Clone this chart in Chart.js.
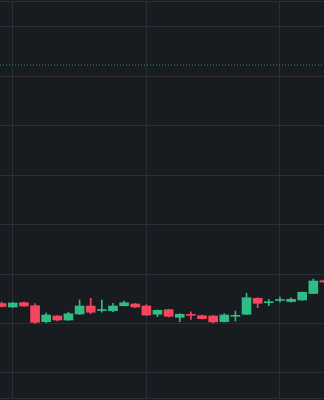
<!DOCTYPE html>
<html>
<head>
<meta charset="utf-8">
<script src="https://cdn.jsdelivr.net/npm/chart.js@4.4.0/dist/chart.umd.min.js"></script>
<style>
  html, body { margin: 0; padding: 0; background: #181b20; }
  #wrap { width: 324px; height: 400px; }
</style>
</head>
<body>
<div id="wrap"><canvas id="candles"></canvas></div>
<script>
// OHLC, one entry per candle
var opens  = [114.06, 113.35, 114.22, 113.61, 110.38, 111.53, 110.72, 111.94, 113.55, 112.64,
              112.60, 113.61, 113.96, 113.55, 111.88, 112.81, 111.27, 111.79, 111.59, 111.53,
              110.38, 111.47, 111.88, 115.11, 114.22, 114.67, 114.46, 114.77, 116.08, 118.67];
var highs  = [114.36, 114.26, 114.36, 114.02, 112.14, 111.63, 112.28, 114.77, 115.11, 114.77,
              114.10, 114.57, 114.06, 113.82, 112.74, 112.89, 112.00, 112.38, 111.73, 111.63,
              112.00, 112.54, 116.12, 115.23, 114.87, 115.37, 115.23, 116.39, 119.02, 118.87];
var lows   = [113.35, 113.25, 113.45, 110.05, 110.18, 110.52, 110.62, 111.83, 112.00, 112.28,
              112.40, 113.55, 113.25, 111.63, 111.39, 111.33, 110.38, 110.86, 110.92, 110.12,
              110.32, 110.52, 111.79, 113.21, 113.61, 114.36, 114.32, 114.71, 116.04, 118.21];
var closes = [113.45, 114.16, 113.55, 110.26, 111.73, 110.72, 112.00, 113.55, 112.28, 112.74,
              113.55, 114.22, 113.35, 111.73, 112.68, 111.47, 111.88, 111.67, 110.98, 110.32,
              111.73, 111.59, 115.23, 114.10, 114.42, 114.77, 114.91, 116.33, 118.61, 118.41];

var priceLine = 162.3;      // dotted level near the top
var xGridAt = [1, 13, 25];  // vertical grid lines sit on these candles

var upColor = "#2ebd85";
var downColor = "#f6465d";

var xMin = -0.15, xMax = 28.96;
var yMin = 94.94, yMax = 175.26;

var candleColors = [];
var bodies = [];
var wicks = [];
for (var i = 0; i < opens.length; i++) {
  candleColors.push(closes[i] >= opens[i] ? upColor : downColor);
  bodies.push({ x: i, y: [opens[i], closes[i]] });
  wicks.push({ x: i, y: [lows[i], highs[i]] });
}

var gridColor = "#2a2e35";

new Chart(document.getElementById("candles"), {
  type: "bar",
  data: {
    datasets: [
      {
        type: "line",
        data: [{ x: xMin, y: priceLine }, { x: xMax, y: priceLine }],
        borderColor: "rgba(46,189,133,0.75)",
        borderWidth: 1,
        borderDash: [1, 2],
        pointRadius: 0,
        order: 0
      },
      {
        data: bodies,
        backgroundColor: candleColors,
        barThickness: 9,
        minBarLength: 1,
        grouped: false,
        order: 1
      },
      {
        data: wicks,
        backgroundColor: candleColors,
        barThickness: 1,
        grouped: false,
        order: 2
      }
    ]
  },
  options: {
    responsive: true,
    maintainAspectRatio: false,
    animation: false,
    layout: { padding: { top: 1, bottom: 2, left: 0, right: 0 } },
    plugins: { legend: { display: false }, tooltip: { enabled: false } },
    scales: {
      x: {
        type: "linear",
        min: xMin,
        max: xMax,
        offset: false,
        grid: { color: gridColor, offset: false, drawTicks: false },
        border: { display: false },
        ticks: { display: false },
        afterBuildTicks: function (scale) {
          scale.ticks = xGridAt.map(function (v) { return { value: v }; });
        }
      },
      y: {
        min: yMin,
        max: yMax,
        grid: { color: gridColor, drawTicks: false },
        border: { display: false },
        ticks: { display: false, stepSize: 10 }
      }
    }
  }
});
</script>
</body>
</html>
